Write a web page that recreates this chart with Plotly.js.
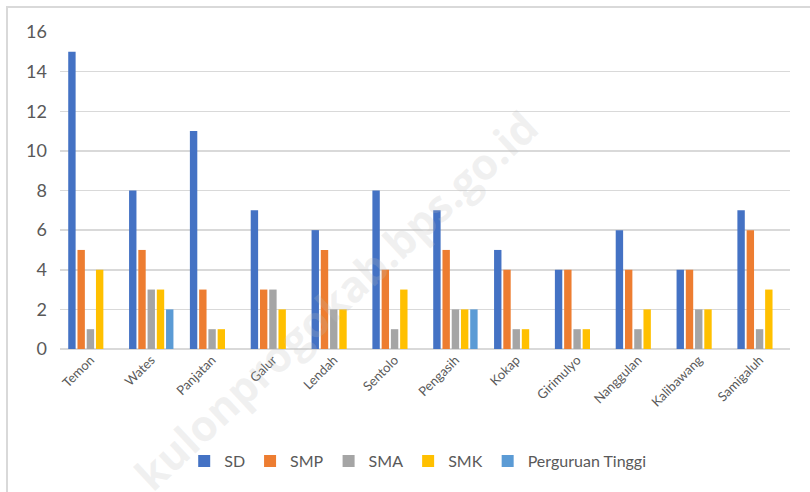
<!DOCTYPE html>
<html>
<head>
<meta charset="utf-8">
<script src="https://cdn.plot.ly/plotly-3.0.1.min.js"></script>
<style>html,body{margin:0;padding:0;background:#fff;}#chart{width:810px;height:492px;}</style>
</head>
<body>
<div id="chart"></div>
<script>
const categories = ["Temon","Wates","Panjatan","Galur","Lendah","Sentolo","Pengasih","Kokap","Girimulyo","Nanggulan","Kalibawang","Samigaluh"];
const seriesNames = ["SD","SMP","SMA","SMK","Perguruan Tinggi"];
const sd  = [15, 8, 11, 7, 6, 8, 7, 5, 4, 6, 4, 7];
const smp = [5, 5, 3, 3, 5, 4, 5, 4, 4, 4, 4, 6];
const sma = [1, 3, 1, 3, 2, 1, 2, 1, 1, 1, 2, 1];
const smk = [4, 3, 1, 2, 2, 3, 2, 1, 1, 2, 2, 3];
const pt  = [0, 2, 0, 0, 0, 0, 2, 0, 0, 0, 0, 0];
const colors = ["#4472C4","#ED7D31","#A5A5A5","#FFC000","#5B9BD5"];
const yTicks = [0,2,4,6,8,10,12,14,16];

const values = [sd, smp, sma, smk, pt];
const traces = values.map((v, i) => ({
  type: "bar",
  name: seriesNames[i],
  x: categories,
  y: v,
  marker: {color: colors[i]},
  hoverinfo: "none"
}));

const W = 810, H = 492, L = 60, R = 20, T = 32, B = 143;
const pw = W - L - R, ph = H - T - B;
const px = x => (x - L) / pw;
const py = y => (H - B - y) / ph;

const layout = {
  width: W, height: H,
  margin: {l: L, r: R, t: T, b: B},
  paper_bgcolor: "#ffffff",
  plot_bgcolor: "#ffffff",
  font: {family: "Lato, 'Open Sans', sans-serif", color: "#595959"},
  barmode: "group",
  bargap: 0.24,
  bargroupgap: 0.2,
  showlegend: true,
  legend: {
    orientation: "h", x: 0.49, xanchor: "center", y: py(461), yanchor: "middle",
    font: {size: 16, color: "#595959"}, itemwidth: 30, traceorder: "normal"
  },
  xaxis: {
    type: "category",
    tickangle: -45,
    tickfont: {size: 13, color: "#595959"},
    showgrid: false, showline: false, zeroline: false, ticks: "",
    fixedrange: true
  },
  yaxis: {
    range: [0, 16],
    tickvals: yTicks,
    tickfont: {size: 18, color: "#595959"},
    gridcolor: "#d9d9d9", gridwidth: 1.5,
    zeroline: true, zerolinecolor: "#d9d9d9", zerolinewidth: 1.5,
    showline: false, ticks: "",
    ticklabelstandoff: 12,
    fixedrange: true
  },
  shapes: [{
    type: "rect", xref: "paper", yref: "paper",
    x0: px(7), x1: px(815), y0: py(497), y1: py(7),
    line: {color: "#d9d9d9", width: 2}, fillcolor: "rgba(0,0,0,0)", layer: "below"
  }],
  annotations: [{
    text: "kulonprogokab.bps.go.id",
    xref: "paper", yref: "paper",
    x: px(335), y: py(300), xanchor: "center", yanchor: "middle",
    showarrow: false, textangle: -43,
    font: {size: 43, family: "'Open Sans', sans-serif", weight: 700, color: "rgba(190,190,190,0.22)"}
  }]
};

Plotly.newPlot("chart", traces, layout, {staticPlot: true, displayModeBar: false});
</script>
</body>
</html>
